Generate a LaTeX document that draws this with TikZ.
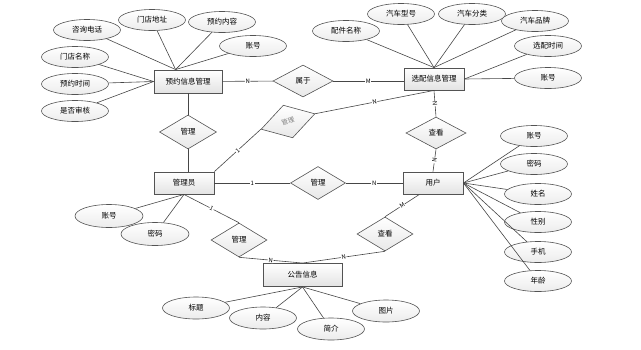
\documentclass[tikz,border=0pt]{standalone}
\usepackage{fontspec}
\newfontfamily\cjk{Noto Sans CJK SC}
\usetikzlibrary{shapes.geometric}

\begin{document}
\begin{tikzpicture}[x=1pt,y=-1pt,
  font=\cjk\fontsize{7.5}{8}\selectfont,
  entity/.style={rectangle,draw=gray!65!black,line width=0.9pt,top color=white,bottom color=gray!22,minimum width=60pt,minimum height=22pt,inner sep=1pt},
  attr/.style={ellipse,draw=gray!65!black,line width=0.6pt,top color=white,bottom color=gray!15,minimum width=67pt,minimum height=21pt,inner sep=0pt},
  rel/.style={diamond,draw=gray!65!black,line width=0.6pt,top color=white,bottom color=gray!18,minimum width=57pt,minimum height=34pt,inner sep=0pt},
  link/.style={draw=gray!55!black,line width=0.6pt},
  card/.style={midway,sloped,fill=white,inner sep=0.6pt,font=\cjk\fontsize{6}{6}\selectfont}]
  \useasboundingbox (0,0) rectangle (641,349);

  % entities
  \node[entity,minimum width=68pt,minimum height=23pt] (yy) at (188,81.5) {预约信息管理};
  \node[entity] (xp) at (434,79) {选配信息管理};
  \node[entity] (gly) at (184,183) {管理员};
  \node[entity] (yh) at (433,183) {用户};
  \node[entity,minimum width=79pt,minimum height=23pt] (gg) at (302.5,275) {公告信息};

  % relations
  \node[rel,minimum width=60pt,minimum height=32pt] (sy) at (303,81) {属于};
  \node[rel] (gl1) at (188,132) {管理};
  \node[rel,minimum width=56pt,rotate=16,text=gray,font=\cjk\fontsize{6.5}{7}\selectfont] (gd) at (288,121.5) {管理};
  \node[rel,minimum width=60pt,minimum height=32pt] (ck1) at (436,133) {查看};
  \node[rel,minimum width=55pt,minimum height=33pt] (gl2) at (318,183) {管理};
  \node[rel,minimum width=56pt] (gl3) at (239,240) {管理};
  \node[rel,minimum width=56pt] (ck2) at (385,234) {查看};

  % booking attributes
  \node[attr] (a1) at (87,30) {咨询电话};
  \node[attr] (a2) at (152,20) {门店地址};
  \node[attr] (a3) at (222,22) {预约内容};
  \node[attr] (a4) at (253,46) {账号};
  \node[attr] (a5) at (75,57) {门店名称};
  \node[attr] (a6) at (75,84) {预约时间};
  \node[attr] (a7) at (75,111) {是否审核};
  \foreach \a in {a1,a2,a3,a4} \draw[link] (\a) -- (yy.136);
  \foreach \a in {a5,a6,a7} \draw[link] (\a) -- (yy.west);

  % parts attributes
  \node[attr] (b1) at (346,31) {配件名称};
  \node[attr] (b2) at (401,14) {汽车型号};
  \node[attr] (b3) at (472,14) {汽车分类};
  \node[attr] (b4) at (535,21) {汽车品牌};
  \node[attr] (b5) at (548,46) {选配时间};
  \node[attr] (b6) at (548,78) {账号};
  \foreach \b in {b1,b2,b3,b4} \draw[link] (\b) -- (xp.north);
  \foreach \b in {b5,b6} \draw[link] (\b) -- (xp.east);

  % user attributes
  \node[attr] (c1) at (534,136) {账号};
  \node[attr] (c2) at (534,164) {密码};
  \node[attr] (c3) at (538,194) {姓名};
  \node[attr] (c4) at (538,222) {性别};
  \node[attr] (c5) at (538,252) {手机};
  \node[attr] (c6) at (538,281) {年龄};
  \foreach \c in {c1,c2,c3,c4,c5,c6} \draw[link] (yh.east) -- (\c);

  % admin attributes
  \node[attr,minimum width=68pt,minimum height=23pt] (d1) at (109,216) {账号};
  \node[attr,minimum width=68pt,minimum height=23pt] (d2) at (155,234) {密码};
  \foreach \d in {d1,d2} \draw[link] (gly.south) -- (\d);

  % notice attributes
  \node[attr,minimum height=22pt] (e1) at (196,308) {标题};
  \node[attr,minimum height=22pt] (e2) at (263,318) {内容};
  \node[attr,minimum height=22pt] (e3) at (331,329) {简介};
  \node[attr,minimum height=22pt] (e4) at (386,311) {图片};
  \foreach \e in {e1,e2,e3,e4} \draw[link] (gg.south) -- (\e);

  % links between entities
  \draw[link] (yy) -- (sy) node[card] {N};
  \draw[link] (sy.east) -- (sy.east -| xp.west) node[card] {M};
  \draw[link] (yy.south -| gl1.north) -- (gl1.north);
  \draw[link] (gl1.south) -- (gl1.south |- gly.north);
  \draw[link] (gly.north east) -- (gd.west) node[card] {1};
  \draw[link] (gd.east) -- (xp.south) node[card] {N};
  \draw[link] (xp.south) -- (ck1.north) node[card] {N};
  \draw[link] (ck1.south) -- (yh.north) node[card] {N};
  \draw[link] (gly.east) -- (gl2.west) node[card] {1};
  \draw[link] (gl2.east) -- (yh.west) node[card] {N};
  \draw[link] (gly.south) -- (gl3.north) node[card] {1};
  \draw[link] (gl3.south) -- (gg.north) node[card] {N};
  \draw[link] (yh.220) -- (ck2.north) node[card] {M};
  \draw[link] (ck2.south) -- (gg.north) node[card] {N};
\end{tikzpicture}
\end{document}
